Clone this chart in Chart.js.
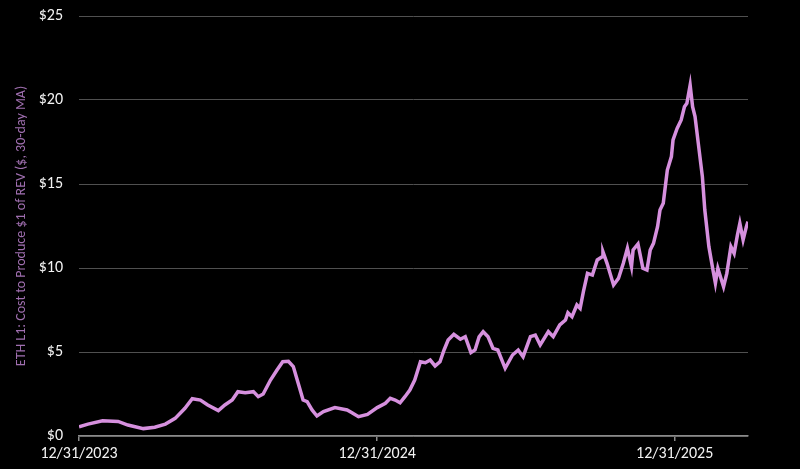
<!DOCTYPE html>
<html>
<head>
<meta charset="utf-8">
<script src="https://cdn.jsdelivr.net/npm/chart.js@4"></script>
<style>
  html, body { margin: 0; padding: 0; background: #000; }
  #wrap { width: 800px; height: 469px; }
</style>
</head>
<body>
<div id="wrap"><canvas id="chart"></canvas></div>
<script>
// Days since 12/31/2023 and the 30-day MA cost per $1 of REV
const days = [
    0, 11, 29, 48, 60, 79, 93, 106, 118, 130, 139, 149, 158, 171, 179, 188, 195, 204, 214, 220,
    226, 235, 243, 250, 257, 263, 269, 275, 280, 286, 292, 300, 314, 329, 335, 343, 354, 366,
    376, 382, 388, 394, 400, 406, 412, 419, 425, 431, 437, 443, 448, 453, 460, 468, 474, 481,
    486, 491, 496, 502, 508, 514, 523, 532, 539, 545, 554, 560, 566, 576, 582, 590, 597, 600,
    605, 611, 615, 619, 624, 630, 636, 642, 643, 648, 656, 662, 668, 673, 678, 680, 686, 692,
    697, 701, 705, 710, 713, 717, 722, 727, 729, 734, 739, 743, 746, 750, 753, 756, 760, 765,
    768, 773, 778, 781, 784, 791, 795, 800, 804, 808, 811, 815, 819, 821
];
const costPerRev = [
    0.55, 0.71, 0.91, 0.87, 0.65, 0.44, 0.52, 0.71, 1.05, 1.65, 2.22, 2.14, 1.85, 1.51, 1.85, 2.14, 2.64, 2.58, 2.64, 2.34,
    2.50, 3.33, 3.93, 4.42, 4.45, 4.13, 3.14, 2.14, 2.04, 1.55, 1.19, 1.45, 1.69, 1.55, 1.39, 1.15, 1.29, 1.69,
    1.95, 2.24, 2.14, 1.98, 2.34, 2.74, 3.33, 4.42, 4.36, 4.52, 4.17, 4.42, 5.12, 5.71, 6.05, 5.76, 5.91, 4.96,
    5.12, 5.90, 6.21, 5.91, 5.22, 5.12, 4.03, 4.82, 5.12, 4.72, 5.91, 6.01, 5.42, 6.21, 5.91, 6.61, 6.90, 7.34,
    7.10, 7.80, 7.60, 8.59, 9.68, 9.58, 10.48, 10.67, 10.97, 10.28, 8.99, 9.38, 10.28, 11.17, 10.08, 11.07, 11.43, 9.98,
    9.88, 11.07, 11.47, 12.46, 13.45, 13.85, 15.83, 16.63, 17.62, 18.31, 18.81, 19.60, 19.80, 20.89, 19.60, 19.01, 17.42, 15.44,
    13.45, 11.27, 9.88, 9.09, 9.98, 8.89, 9.68, 11.27, 10.87, 11.96, 12.66, 11.67, 12.46, 12.76
];
const tickDays = [0, 366, 731];
const tickLabels = ["12/31/2023", "12/31/2024", "12/31/2025"];
const yTitle = "ETH L1: Cost to Produce $1 of REV ($, 30-day MA)";

const points = days.map((d, i) => ({ x: d, y: costPerRev[i] }));
const fontFamily = "Carlito, Lato, sans-serif";

new Chart(document.getElementById("chart"), {
    type: "line",
    data: {
        datasets: [{
            data: points,
            borderColor: "#d690de",
            borderWidth: 3.5,
            pointRadius: 0,
            tension: 0,
            fill: false
        }]
    },
    options: {
        responsive: true,
        maintainAspectRatio: false,
        animation: false,
        layout: { padding: { left: 9, top: 16, right: 52, bottom: 0 } },
        plugins: {
            legend: { display: false },
            tooltip: { enabled: false }
        },
        scales: {
            x: {
                type: "linear",
                min: 0,
                max: 821,
                afterBuildTicks: axis => { axis.ticks = tickDays.map(v => ({ value: v })); },
                afterFit: axis => { axis.height = 33; },
                ticks: {
                    color: "#f2f2f2",
                    font: { family: fontFamily, size: 16 },
                    padding: 3,
                    maxRotation: 0,
                    callback: v => tickLabels[tickDays.indexOf(v)]
                },
                grid: {
                    drawOnChartArea: false,
                    drawTicks: true,
                    tickLength: 5,
                    color: "#8a8a8a",
                    lineWidth: 1.5
                },
                border: { display: true, color: "#8a8a8a", width: 1.5 }
            },
            y: {
                min: 0,
                max: 25,
                afterFit: axis => { axis.width = 70; },
                ticks: {
                    stepSize: 5,
                    color: "#f2f2f2",
                    font: { family: fontFamily, size: 16 },
                    padding: 4,
                    callback: v => "$" + v
                },
                grid: { color: "#505050", lineWidth: 1, drawTicks: true, tickLength: 12, tickColor: "rgba(0,0,0,0)" },
                border: { display: false },
                title: {
                    display: true,
                    text: yTitle,
                    color: "#a06fb0",
                    font: { family: fontFamily, size: 14 },
                    padding: { top: 4, bottom: 4 }
                }
            }
        }
    }
});
</script>
</body>
</html>
